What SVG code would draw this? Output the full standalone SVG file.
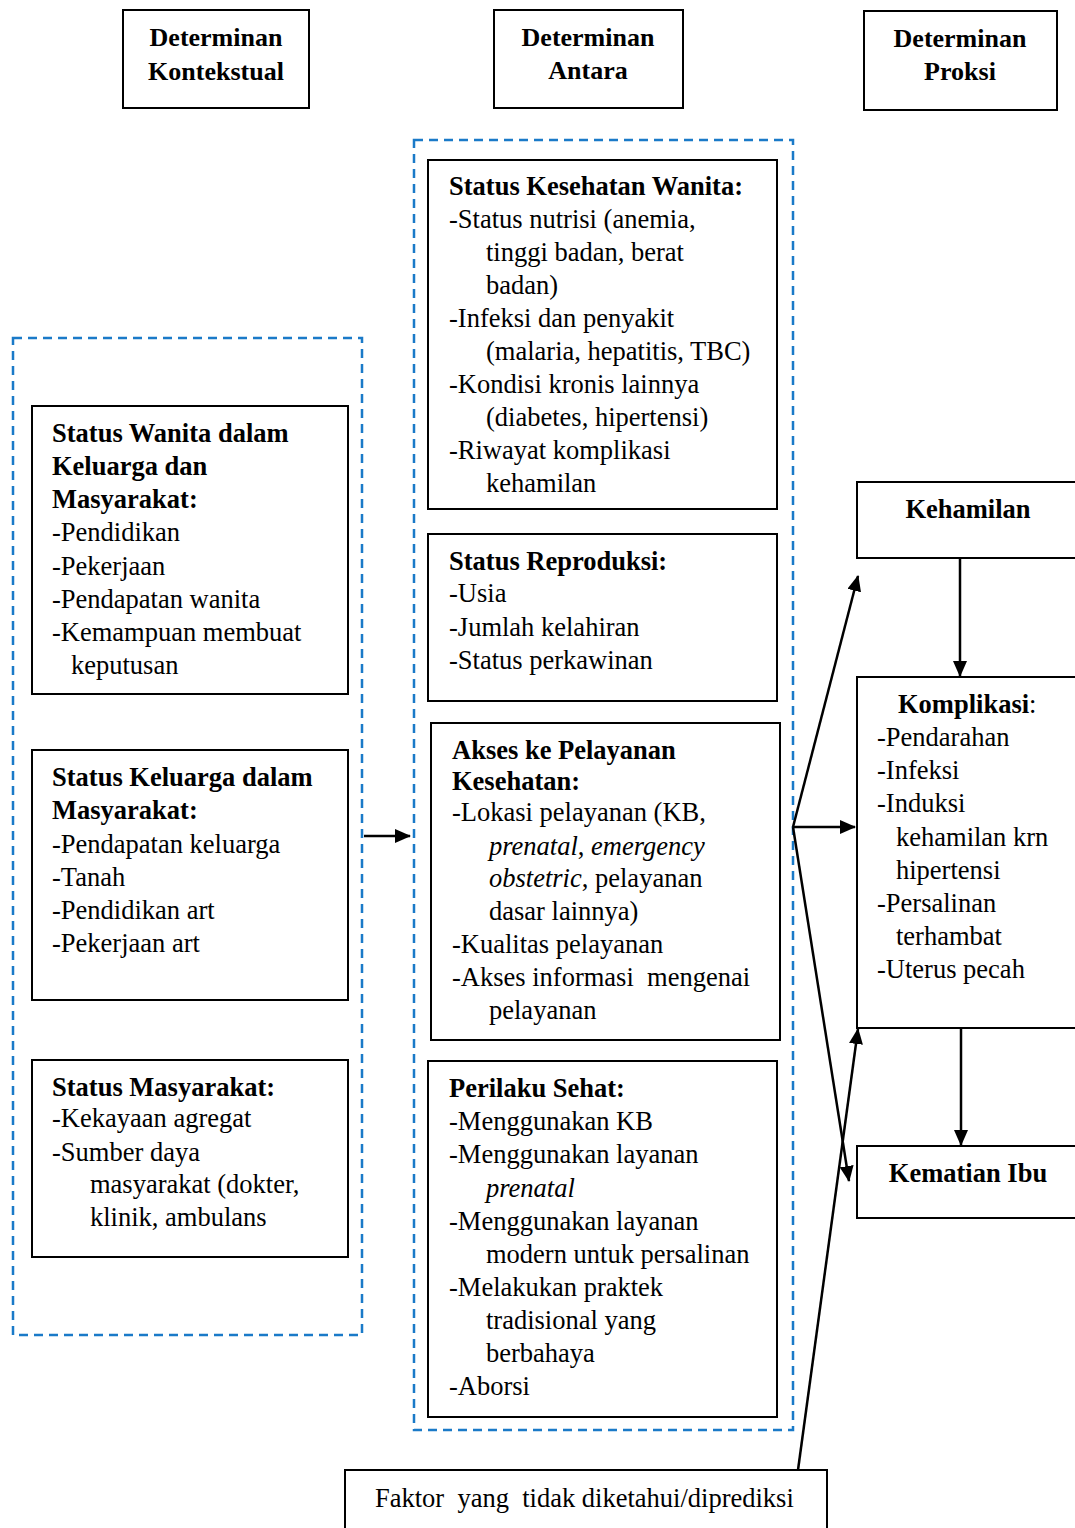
<svg xmlns="http://www.w3.org/2000/svg" width="1075" height="1528" viewBox="0 0 1075 1528">
<style>
text{font-family:"Liberation Serif","Times New Roman",serif;font-size:26.5px;fill:#000}
.b{font-weight:bold}
.h{font-weight:bold;font-size:26px;text-anchor:middle}
.i{font-style:italic}
.box{fill:#fff;stroke:#000;stroke-width:2}
.dash{fill:none;stroke:#1a7ac8;stroke-width:2.5;stroke-dasharray:9,6}
.con{stroke:#000;stroke-width:2.5;fill:none;marker-end:url(#ah)}
</style>
<defs>
<marker id="ah" markerUnits="userSpaceOnUse" markerWidth="16" markerHeight="14" refX="15" refY="7" orient="auto">
<path d="M0,0 L16,7 L0,14 z" fill="#000"/>
</marker>
</defs>
<rect width="1075" height="1528" fill="#fff"/>

<g id="hdr-kontekstual">
<rect class="box" x="123" y="10" width="186" height="98"/>
<text class="h" x="216" y="46">Determinan</text>
<text class="h" x="216" y="80">Kontekstual</text>
</g>
<g id="hdr-antara">
<rect class="box" x="494" y="10" width="189" height="98"/>
<text class="h" x="588" y="46">Determinan</text>
<text class="h" x="588" y="79">Antara</text>
</g>
<g id="hdr-proksi">
<rect class="box" x="864" y="11" width="193" height="99"/>
<text class="h" x="960" y="47">Determinan</text>
<text class="h" x="960" y="80">Proksi</text>
</g>

<g id="group-kontekstual">
<rect class="dash" x="13" y="338" width="349" height="997"/>
</g>
<g id="group-antara">
<rect class="dash" x="414" y="140" width="379" height="1290"/>
</g>

<g id="status-wanita">
<rect class="box" x="32" y="406" width="316" height="288"/>
<text class="b" x="52" y="442">Status Wanita dalam</text>
<text class="b" x="52" y="475">Keluarga dan</text>
<text class="b" x="52" y="508">Masyarakat:</text>
<text x="52" y="541">-Pendidikan</text>
<text x="52" y="575">-Pekerjaan</text>
<text x="52" y="608">-Pendapatan wanita</text>
<text x="52" y="641">-Kemampuan membuat</text>
<text x="71" y="674">keputusan</text>
</g>

<g id="status-keluarga">
<rect class="box" x="32" y="750" width="316" height="250"/>
<text class="b" x="52" y="786">Status Keluarga dalam</text>
<text class="b" x="52" y="819">Masyarakat:</text>
<text x="52" y="853">-Pendapatan keluarga</text>
<text x="52" y="886">-Tanah</text>
<text x="52" y="919">-Pendidikan art</text>
<text x="52" y="952">-Pekerjaan art</text>
</g>

<g id="status-masyarakat">
<rect class="box" x="32" y="1060" width="316" height="197"/>
<text class="b" x="52" y="1096">Status Masyarakat:</text>
<text x="52" y="1127">-Kekayaan agregat</text>
<text x="52" y="1161">-Sumber daya</text>
<text x="90" y="1193">masyarakat (dokter,</text>
<text x="90" y="1226">klinik, ambulans</text>
</g>

<g id="kesehatan-wanita">
<rect class="box" x="428" y="160" width="349" height="349"/>
<text class="b" x="449" y="195">Status Kesehatan Wanita:</text>
<text x="449" y="228">-Status nutrisi (anemia,</text>
<text x="486" y="261">tinggi badan, berat</text>
<text x="486" y="294">badan)</text>
<text x="449" y="327">-Infeksi dan penyakit</text>
<text x="486" y="360">(malaria, hepatitis, TBC)</text>
<text x="449" y="393">-Kondisi kronis lainnya</text>
<text x="486" y="426">(diabetes, hipertensi)</text>
<text x="449" y="459">-Riwayat komplikasi</text>
<text x="486" y="492">kehamilan</text>
</g>

<g id="status-reproduksi">
<rect class="box" x="428" y="534" width="349" height="167"/>
<text class="b" x="449" y="570">Status Reproduksi:</text>
<text x="449" y="602">-Usia</text>
<text x="449" y="636">-Jumlah kelahiran</text>
<text x="449" y="669">-Status perkawinan</text>
</g>

<g id="akses-pelayanan">
<rect class="box" x="431" y="723" width="349" height="317"/>
<text class="b" x="452" y="759">Akses ke Pelayanan</text>
<text class="b" x="452" y="790">Kesehatan:</text>
<text x="452" y="821">-Lokasi pelayanan (KB,</text>
<text x="489" y="855"><tspan class="i">prenatal</tspan>, <tspan class="i">emergency</tspan></text>
<text x="489" y="887"><tspan class="i">obstetric</tspan>, pelayanan</text>
<text x="489" y="920">dasar lainnya)</text>
<text x="452" y="953">-Kualitas pelayanan</text>
<text x="452" y="986" xml:space="preserve">-Akses informasi  mengenai</text>
<text x="489" y="1019">pelayanan</text>
</g>

<g id="perilaku-sehat">
<rect class="box" x="428" y="1061" width="349" height="356"/>
<text class="b" x="449" y="1097">Perilaku Sehat:</text>
<text x="449" y="1130">-Menggunakan KB</text>
<text x="449" y="1163">-Menggunakan layanan</text>
<text class="i" x="486" y="1197">prenatal</text>
<text x="449" y="1230">-Menggunakan layanan</text>
<text x="486" y="1263">modern untuk persalinan</text>
<text x="449" y="1296">-Melakukan praktek</text>
<text x="486" y="1329">tradisional yang</text>
<text x="486" y="1362">berbahaya</text>
<text x="449" y="1395">-Aborsi</text>
</g>

<g id="kehamilan">
<rect class="box" x="857" y="482" width="230" height="76"/>
<text class="b" x="968" y="518" text-anchor="middle">Kehamilan</text>
</g>

<g id="komplikasi">
<rect class="box" x="857" y="677" width="230" height="351"/>
<text x="898" y="713"><tspan class="b">Komplikasi</tspan>:</text>
<text x="877" y="746">-Pendarahan</text>
<text x="877" y="779">-Infeksi</text>
<text x="877" y="812">-Induksi</text>
<text x="896" y="846">kehamilan krn</text>
<text x="896" y="879">hipertensi</text>
<text x="877" y="912">-Persalinan</text>
<text x="896" y="945">terhambat</text>
<text x="877" y="978">-Uterus pecah</text>
</g>

<g id="kematian-ibu">
<rect class="box" x="857" y="1146" width="230" height="72"/>
<text class="b" x="968" y="1182" text-anchor="middle">Kematian Ibu</text>
</g>

<g id="faktor">
<rect class="box" x="345" y="1470" width="482" height="70"/>
<text x="375" y="1507" xml:space="preserve">Faktor  yang  tidak diketahui/diprediksi</text>
</g>

<g id="connectors">
<line class="con" x1="364" y1="836" x2="410" y2="836"/>
<line class="con" x1="793" y1="827" x2="858" y2="576"/>
<line class="con" x1="793" y1="827" x2="855" y2="827"/>
<line class="con" x1="793" y1="827" x2="849" y2="1181"/>
<line class="con" x1="798" y1="1470" x2="858" y2="1029"/>
<line class="con" x1="960" y1="558" x2="960" y2="676"/>
<line class="con" x1="961" y1="1028" x2="961" y2="1145"/>
</g>
</svg>
